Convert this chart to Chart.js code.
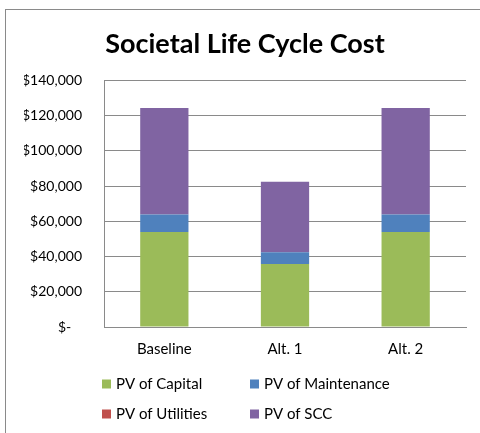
<!DOCTYPE html>
<html lang="en">
<head>
    <meta charset="UTF-8">
    <title>Societal Life Cycle Cost</title>
    <style>
        body { margin: 0; background: #fff; }
        #wrap { width: 480px; height: 433px; }
    </style>
</head>
<body>
    <div id="wrap">
        <canvas id="myChart"></canvas>
    </div>

    <script src="https://cdn.jsdelivr.net/npm/chart.js"></script>
    <script>
        // categories
        const categories = ["Baseline", "Alt. 1", "Alt. 2"];

        // series values
        const pvCapital = [54000, 35800, 54000];
        const pvMaintenance = [9800, 6700, 9800];
        const pvUtilities = [0, 0, 0];
        const pvSCC = [60500, 40000, 60500];

        const seriesNames = ["PV of Capital", "PV of Maintenance", "PV of Utilities", "PV of SCC"];
        const seriesColors = ["#9bbb59", "#4f81bd", "#c0504d", "#8064a2"];

        const FONT = "Lato, 'Open Sans', sans-serif";

        // outer frame of the chart
        const framePlugin = {
            id: "frame",
            beforeDraw(chart) {
                const c = chart.ctx;
                c.save();
                c.strokeStyle = "#8a8a8a";
                c.lineWidth = 1;
                c.strokeRect(5.5, 9.5, 520, 460);
                c.restore();
            }
        };

        // legend in two columns, like the excel one
        const legendPlugin = {
            id: "gridLegend",
            afterDraw(chart) {
                const c = chart.ctx;
                const area = chart.chartArea;
                c.save();
                c.font = "15px " + FONT;
                c.textBaseline = "middle";
                c.textAlign = "left";
                chart.data.datasets.forEach(function(ds, i) {
                    const col = i % 2;
                    const row = Math.floor(i / 2);
                    const x = area.left - 2 + col * 148;
                    const y = area.bottom + 57 + row * 30;
                    c.fillStyle = ds.backgroundColor;
                    c.fillRect(x, y - 4.5, 9, 9);
                    c.fillStyle = "#000";
                    c.fillText(ds.label, x + 14, y);
                });
                c.restore();
            }
        };

        const ctx = document.getElementById("myChart");
        const datasets = [pvCapital, pvMaintenance, pvUtilities, pvSCC].map(function(vals, i) {
            return {
                label: seriesNames[i],
                data: vals,
                backgroundColor: seriesColors[i],
                borderWidth: 0,
                barPercentage: 0.4,
                categoryPercentage: 1.0
            };
        });

        new Chart(ctx, {
            type: "bar",
            data: {
                labels: categories,
                datasets: datasets
            },
            options: {
                responsive: true,
                maintainAspectRatio: false,
                animation: false,
                layout: {
                    padding: { left: 24, right: 14, top: 0, bottom: 62 }
                },
                plugins: {
                    legend: { display: false },
                    tooltip: { enabled: false },
                    title: {
                        display: true,
                        text: "Societal Life Cycle Cost",
                        color: "#000",
                        font: { family: FONT, size: 27, weight: "bold" },
                        padding: { top: 28, bottom: 20 }
                    }
                },
                scales: {
                    x: {
                        stacked: true,
                        grid: { display: false, drawTicks: false },
                        border: { color: "#8a8a8a", width: 1 },
                        ticks: {
                            color: "#000",
                            padding: 13,
                            font: { family: FONT, size: 15 }
                        }
                    },
                    y: {
                        stacked: true,
                        min: 0,
                        max: 140000,
                        afterFit: function(scale) {
                            scale.width = 80;
                        },
                        grid: { color: "#8a8a8a", drawTicks: false },
                        border: { color: "#8a8a8a", width: 1 },
                        ticks: {
                            stepSize: 20000,
                            color: "#000",
                            padding: 22,
                            font: { family: FONT, size: 14 },
                            callback: function(v) {
                                if (v === 0) return "$-   ";
                                return "$" + v.toLocaleString("en-US");
                            }
                        }
                    }
                }
            },
            plugins: [framePlugin, legendPlugin]
        });
    </script>
</body>
</html>
